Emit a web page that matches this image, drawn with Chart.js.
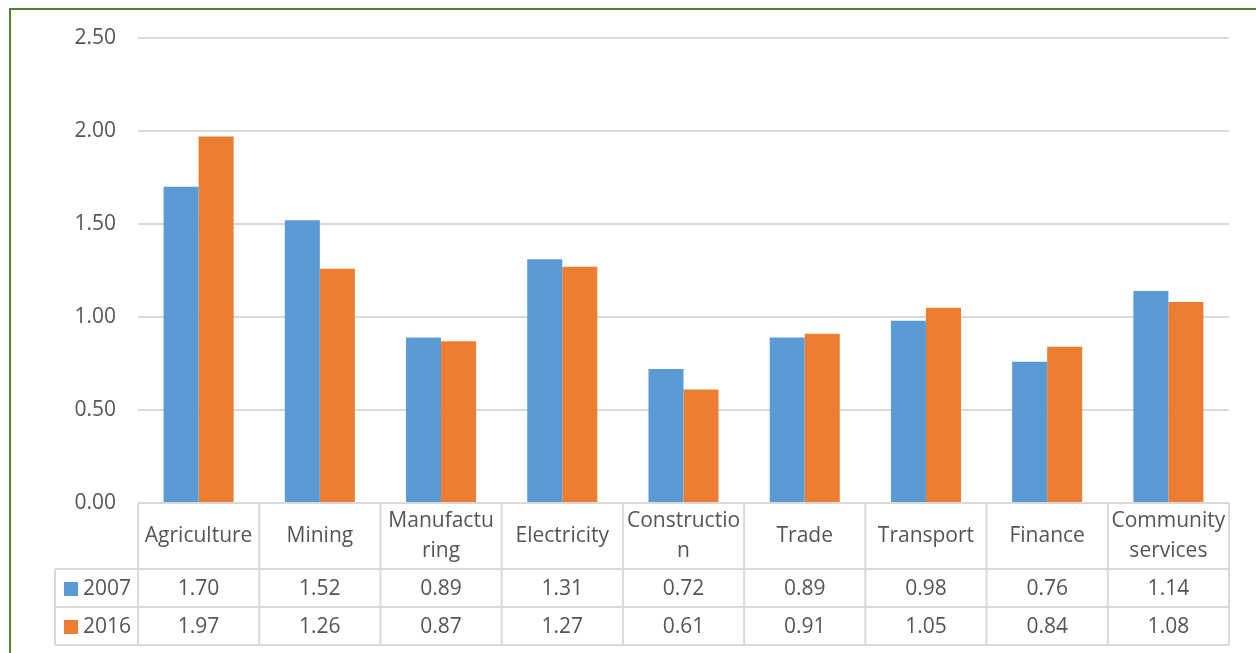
<!DOCTYPE html>
<html>
<head>
<meta charset="utf-8">
<script src="https://cdn.jsdelivr.net/npm/chart.js@4.4.1/dist/chart.umd.min.js"></script>
<style>
  html, body { margin: 0; padding: 0; background: #ffffff; overflow: hidden; }
  #wrap { width: 1256px; height: 653px; position: relative; }
</style>
</head>
<body>
<div id="wrap"><canvas id="c" width="1256" height="653"></canvas></div>
<script>
const categories = [
  'Agriculture', 'Mining', ['Manufactu', 'ring'], 'Electricity',
  ['Constructio', 'n'], 'Trade', 'Transport', 'Finance', ['Community', 'services']
];
const seriesNames = ['2007', '2016'];
const values2007 = [1.70, 1.52, 0.89, 1.31, 0.72, 0.89, 0.98, 0.76, 1.14];
const values2016 = [1.97, 1.26, 0.87, 1.27, 0.61, 0.91, 1.05, 0.84, 1.08];
const yTicks = [0, 0.5, 1.0, 1.5, 2.0, 2.5];

const colors = ['#5B9BD5', '#ED7D31'];
const FONT = '"Open Sans", "Noto Sans", sans-serif';
const FSIZE = 21;
const TXT = '#555555';
const LINE = '#d9d9d9';

const tablePlugin = {
  id: 'dataTable',
  beforeDraw(chart) {
    const ctx = chart.ctx;
    ctx.save();
    ctx.fillStyle = '#ffffff';
    ctx.fillRect(0, 0, chart.width, chart.height);
    ctx.strokeStyle = '#548235';
    ctx.lineWidth = 2;
    ctx.strokeRect(10, 9, 1400, 800);
    ctx.restore();
  },
  afterDraw(chart) {
    const ctx = chart.ctx;
    const xs = chart.scales.x;
    const area = chart.chartArea;
    const n = categories.length;
    const cw = (area.right - area.left) / n;
    const top = area.bottom;
    const r1 = top + 66;
    const r2 = r1 + 38;
    const r3 = r2 + 38;
    const legLeft = 55;
    ctx.save();
    ctx.strokeStyle = LINE;
    ctx.lineWidth = 2;
    ctx.beginPath();
    ctx.moveTo(area.left, top); ctx.lineTo(area.right, top);
    [r1, r2, r3].forEach(y => { ctx.moveTo(legLeft, y); ctx.lineTo(area.right, y); });
    ctx.moveTo(legLeft, r1); ctx.lineTo(legLeft, r3);
    for (let i = 0; i <= n; i++) {
      const x = i < n ? xs.getPixelForValue(i) - cw / 2 : xs.getPixelForValue(n - 1) + cw / 2;
      ctx.moveTo(x, top); ctx.lineTo(x, r3);
    }
    ctx.stroke();

    ctx.fillStyle = TXT;
    ctx.font = FSIZE + 'px ' + FONT;
    ctx.textAlign = 'center';
    ctx.textBaseline = 'middle';
    const hc = (top + r1) / 2;
    const lh = 30;
    categories.forEach((lab, i) => {
      const cx = xs.getPixelForValue(i);
      const lines = Array.isArray(lab) ? lab : [lab];
      lines.forEach((t, k) => {
        const y = hc + (k - (lines.length - 1) / 2) * lh;
        ctx.fillText(t, cx, y);
      });
    });
    const rows = [values2007, values2016];
    const rowC = [(r1 + r2) / 2, (r2 + r3) / 2];
    rows.forEach((vals, r) => {
      vals.forEach((v, i) => {
        ctx.fillText(v.toFixed(2), xs.getPixelForValue(i), rowC[r] + 1);
      });
      ctx.fillStyle = colors[r];
      ctx.fillRect(64, rowC[r] - 6, 14, 14);
      ctx.fillStyle = TXT;
      ctx.textAlign = 'left';
      ctx.fillText(seriesNames[r], 83, rowC[r] + 1);
      ctx.textAlign = 'center';
    });
    ctx.restore();
  }
};

new Chart(document.getElementById('c'), {
  type: 'bar',
  data: {
    labels: categories,
    datasets: [
      { label: seriesNames[0], data: values2007, backgroundColor: colors[0],
        categoryPercentage: 0.578, barPercentage: 1.0 },
      { label: seriesNames[1], data: values2016, backgroundColor: colors[1],
        categoryPercentage: 0.578, barPercentage: 1.0 }
    ]
  },
  options: {
    responsive: false,
    animation: false,
    devicePixelRatio: 1,
    layout: { padding: { left: 0, right: 27, top: 38, bottom: 150 } },
    plugins: { legend: { display: false }, tooltip: { enabled: false } },
    scales: {
      x: { display: false },
      y: {
        min: 0, max: 2.5,
        afterFit(scale) { scale.width = 138; },
        afterBuildTicks(scale) { scale.ticks = yTicks.map(v => ({ value: v })); },
        border: { display: false },
        grid: { color: LINE, lineWidth: 2, drawTicks: false },
        ticks: {
          padding: 22,
          color: TXT,
          font: { family: FONT, size: FSIZE },
          callback: v => Number(v).toFixed(2)
        }
      }
    }
  },
  plugins: [tablePlugin]
});
</script>
</body>
</html>
